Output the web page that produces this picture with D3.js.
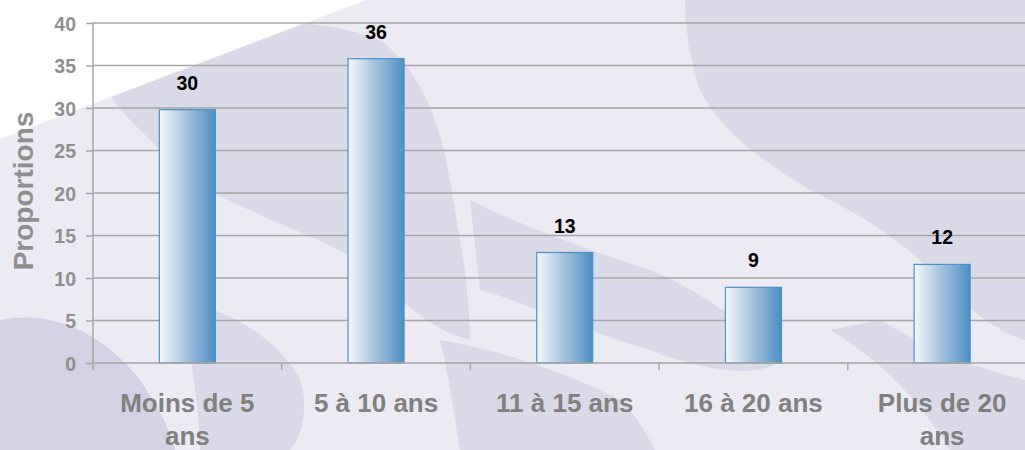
<!DOCTYPE html>
<html>
<head>
<meta charset="utf-8">
<script src="https://cdn.jsdelivr.net/npm/d3@7"></script>
<style>
  html, body { margin: 0; padding: 0; background: #ffffff; }
  svg { display: block; }
</style>
</head>
<body>
<svg id="chart" width="1025" height="450"></svg>
<script>
const categories = ["Moins de 5 ans", "5 à 10 ans", "11 à 15 ans", "16 à 20 ans", "Plus de 20 ans"];
const categoryLines = [["Moins de 5", "ans"], ["5 à 10 ans"], ["11 à 15 ans"], ["16 à 20 ans"], ["Plus de 20", "ans"]];
const values = [29.8, 35.8, 13.0, 8.9, 11.6];
const yTicks = [0, 5, 10, 15, 20, 25, 30, 35, 40];
const yTitle = "Proportions";

const W = 1025, H = 450;
const FONT = "Liberation Sans, Arial, sans-serif";
const svg = d3.select("#chart");

// ---- background (photo-like lavender wash) ----
const defs = svg.append("defs");
const bg = svg.append("g");
bg.append("rect").attr("width", W).attr("height", H).attr("fill", "#eceaf2");
const dark = "#dad9e7";
const darker = "#d3d1e3";
// right upper dark mass
bg.append("path").attr("fill", dark)
  .attr("d", "M685,0 L1025,0 L1025,340 C990,330 960,300 930,270 C890,230 850,210 810,190 C760,160 720,130 700,90 C690,60 685,30 685,0 Z");
// left figure behind bars 1-2
bg.append("path").attr("fill", dark)
  .attr("d", "M100,60 C200,20 300,10 380,40 C420,70 440,120 450,180 C460,240 470,290 470,340 C430,330 400,300 370,270 C330,240 290,230 250,210 C200,190 170,160 140,130 C120,110 100,90 100,60 Z");
// middle band between bars 3-4
bg.append("path").attr("fill", dark)
  .attr("d", "M470,200 C530,230 590,250 650,270 C700,290 740,320 780,360 C760,380 700,370 650,350 C580,330 520,300 480,290 Z");
// bottom-left dark arm
bg.append("path").attr("fill", darker)
  .attr("d", "M0,320 C50,310 100,330 140,380 C160,410 170,430 175,450 L0,450 Z");
// bottom middle dark
bg.append("path").attr("fill", dark)
  .attr("d", "M440,340 C500,350 560,370 620,400 C640,420 650,440 655,450 L460,450 C455,420 450,380 440,340 Z");
// bottom right dark
bg.append("path").attr("fill", dark)
  .attr("d", "M830,330 C880,360 920,400 950,450 L1025,450 L1025,380 C980,370 930,350 880,320 Z");
// lower-left darker blob between axis and bottom
bg.append("path").attr("fill", dark)
  .attr("d", "M180,300 C230,310 280,340 300,380 C310,410 300,440 290,450 L200,450 C200,410 190,350 180,300 Z");
// white top-left triangle
bg.append("path").attr("fill", "#ffffff")
  .attr("d", "M0,0 L366,0 L0,139 Z");

// ---- scales ----
const x0 = 93, bandW = 188.7;
const x = d3.scaleBand().domain(categories)
  .range([x0, x0 + bandW * categories.length])
  .paddingInner(0).paddingOuter(0);
const y = d3.scaleLinear().domain([0, 40]).range([363, 23]);

// gridlines
svg.append("g").selectAll("line").data(yTicks.filter(d => d > 0)).join("line")
  .attr("x1", x0).attr("x2", W)
  .attr("y1", d => y(d)).attr("y2", d => y(d))
  .attr("stroke", "#a6a6a6").attr("stroke-width", 1.5);

// gradient
const grad = defs.append("linearGradient").attr("id", "barGrad")
  .attr("x1", "0%").attr("x2", "100%").attr("y1", "0%").attr("y2", "0%");
grad.append("stop").attr("offset", "0%").attr("stop-color", "#f4f7fb");
grad.append("stop").attr("offset", "45%").attr("stop-color", "#a9c6e0");
grad.append("stop").attr("offset", "100%").attr("stop-color", "#4d8fc2");

// bars
const barW = 56;
svg.append("g").selectAll("rect").data(values).join("rect")
  .attr("x", (d, i) => x(categories[i]) + x.bandwidth() / 2 - barW / 2)
  .attr("y", d => y(d))
  .attr("width", barW)
  .attr("height", d => y(0) - y(d))
  .attr("fill", "url(#barGrad)")
  .attr("stroke", "#4a92c9").attr("stroke-width", 1.2);

// value labels
svg.append("g").selectAll("text").data(values).join("text")
  .attr("x", (d, i) => x(categories[i]) + x.bandwidth() / 2)
  .attr("y", d => y(d) - 20)
  .attr("text-anchor", "middle")
  .attr("font-family", FONT)
  .attr("font-weight", "bold").attr("font-size", 19.5)
  .attr("fill", "#000")
  .text(d => d3.format(".0f")(d));

// y axis
const yAxis = svg.append("g").attr("transform", `translate(${x0},0)`)
  .call(d3.axisLeft(y).tickValues(yTicks).tickSize(7).tickPadding(10));
yAxis.select(".domain").attr("stroke", "#a6a6a6").attr("stroke-width", 1.5)
  .attr("d", `M0,${y(40)}V${y(0)}`);
yAxis.selectAll(".tick line").attr("stroke", "#a6a6a6").attr("stroke-width", 1.5);
yAxis.selectAll(".tick text")
  .attr("font-family", FONT)
  .attr("font-weight", "bold").attr("font-size", 19.5).attr("fill", "#8f8f8f")
  .attr("dy", "0.36em");

// x axis
const xAxis = svg.append("g").attr("transform", `translate(0,${y(0)})`)
  .call(d3.axisBottom(x).tickSize(0).tickFormat(""));
xAxis.select(".domain").attr("stroke", "#a6a6a6").attr("stroke-width", 1.5)
  .attr("d", `M${x0},0H${W}`);
// boundary ticks
const bounds = d3.range(categories.length + 1).map(i => x0 + i * x.step());
svg.append("g").selectAll("line").data(bounds).join("line")
  .attr("x1", d => d).attr("x2", d => d)
  .attr("y1", y(0)).attr("y2", y(0) + 7)
  .attr("stroke", "#a6a6a6").attr("stroke-width", 1.5);

// x category labels
const xl = svg.append("g").selectAll("text").data(categoryLines).join("text")
  .attr("x", (d, i) => x(categories[i]) + x.bandwidth() / 2)
  .attr("y", 412)
  .attr("text-anchor", "middle")
  .attr("font-family", FONT)
  .attr("font-weight", "bold").attr("font-size", 26)
  .attr("fill", "#808080");
xl.each(function(lines) {
  const t = d3.select(this);
  lines.forEach((ln, j) => {
    t.append("tspan").attr("x", t.attr("x")).attr("dy", j === 0 ? 0 : 33).text(ln);
  });
});

// y title
svg.append("text")
  .attr("transform", "translate(33,191) rotate(-90)")
  .attr("text-anchor", "middle")
  .attr("font-family", FONT)
  .attr("font-weight", "bold").attr("font-size", 28)
  .attr("fill", "#8f8f8f")
  .text(yTitle);
</script>
</body>
</html>
